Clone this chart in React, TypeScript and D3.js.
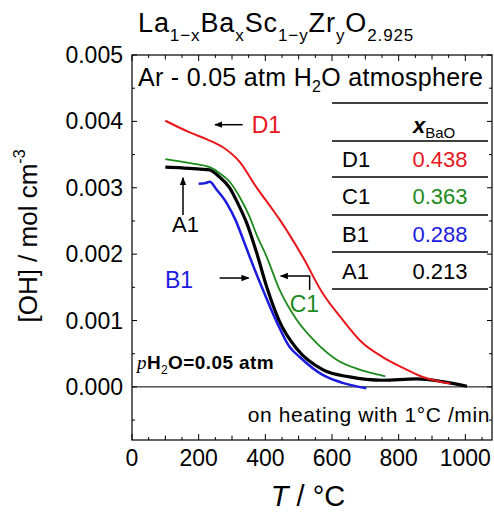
import React from 'react';
import * as d3 from 'd3';

// series: temperature (°C) and [OH] (mol cm^-3)
const d1T = [100, 175, 225, 273, 323, 373, 422, 443, 512, 572, 632, 692, 752, 812, 872, 922, 955];
const d1V = [0.00401, 0.00383, 0.00373, 0.00361, 0.00339, 0.00301, 0.00267, 0.00252, 0.00196, 0.00141, 0.00101, 0.00066, 0.00045, 0.00029, 0.00015, 0.00008, 0.00005];

const c1T = [100, 175, 233, 263, 293, 323, 353, 374, 404, 443, 494, 554, 614, 683, 743, 760];
const c1V = [0.00343, 0.00337, 0.00331, 0.00322, 0.00309, 0.00286, 0.00256, 0.00229, 0.00196, 0.00146, 0.00101, 0.00066, 0.00041, 0.00026, 0.00018, 0.00016];

const b1T = [200, 220, 233, 254, 284, 310, 332, 353, 393, 434, 473, 503, 572, 632, 703];
const b1V = [0.00306, 0.00307, 0.00309, 0.00297, 0.00277, 0.00252, 0.00224, 0.00196, 0.00146, 0.00098, 0.0006, 0.00045, 0.00018, 0.00006, -0.00002];

const a1T = [100, 150, 204, 233, 263, 293, 317, 344, 374, 404, 443, 495, 572, 653, 752, 853, 931, 1005];
const a1V = [0.00331, 0.0033, 0.00328, 0.00327, 0.00316, 0.003, 0.00277, 0.00247, 0.00202, 0.00151, 0.00098, 0.00057, 0.00026, 0.00015, 0.0001, 0.00012, 0.00008, 0.00001];

const sampleNames = ['D1', 'C1', 'B1', 'A1'];
const xBaO = ['0.438', '0.363', '0.288', '0.213'];
const colors = ['#e8161b', '#1d8a1d', '#1c1ce0', '#000000'];

const xTicks = [0, 200, 400, 600, 800, 1000];
const yTicks = [0, 0.001, 0.002, 0.003, 0.004, 0.005];

const W = 494;
const H = 513;
const font = 'Liberation Sans, Arial, Helvetica, sans-serif';

const x = d3.scaleLinear().domain([0, 1080]).range([132, 492]);
const y = d3.scaleLinear().domain([-0.0008, 0.005]).range([440, 55]);

const line = d3
  .line<[number, number]>()
  .x((d) => x(d[0]))
  .y((d) => y(d[1]))
  .curve(d3.curveMonotoneX);

const zip = (t: number[], v: number[]) => t.map((d, i) => [d, v[i]] as [number, number]);

const series = [
  { pts: zip(a1T, a1V), color: colors[3], w: 3.2 },
  { pts: zip(c1T, c1V), color: colors[1], w: 1.8 },
  { pts: zip(d1T, d1V), color: colors[0], w: 2 },
  { pts: zip(b1T, b1V), color: colors[2], w: 2.5 },
];

export default function App() {
  const [x0, x1] = x.range();
  const [y0, y1] = y.range();
  const xMinor = d3.range(0, 1081, 50);
  const yMinor = d3.range(-0.0005, 0.00501, 0.0005);
  const rowLines = [103, 141, 177, 215, 252, 289];

  return (
    <svg width={W} height={H} style={{ position: 'absolute', left: 0, top: 0, background: '#fff' }} fontFamily={font}>
      <defs>
        <marker id="ah" viewBox="0 0 10 10" refX="9" refY="5" markerWidth="8" markerHeight="8" orient="auto-start-reverse" markerUnits="userSpaceOnUse">
          <path d="M0,1 L10,5 L0,9 z" fill="#000" />
        </marker>
      </defs>

      {/* title */}
      <text x={138} y={32} fontSize={27} letterSpacing={0.9}>
        La<tspan fontSize={17} dy={9}>1−x</tspan>
        <tspan dy={-9}>Ba</tspan><tspan fontSize={17} dy={9}>x</tspan>
        <tspan dy={-9}>Sc</tspan><tspan fontSize={17} dy={9}>1−y</tspan>
        <tspan dy={-9}>Zr</tspan><tspan fontSize={17} dy={9}>y</tspan>
        <tspan dy={-9}>O</tspan><tspan fontSize={17} dy={9}>2.925</tspan>
      </text>

      {/* frame */}
      <rect x={x0} y={y1} width={x1 - x0} height={y0 - y1} fill="none" stroke="#000" strokeWidth={1.2} />
      <line x1={x0} x2={x1} y1={y(0)} y2={y(0)} stroke="#000" strokeWidth={1} />

      {/* x ticks top and bottom */}
      {xMinor.map((t) => {
        const len = t % 200 === 0 ? 6 : t % 100 === 0 ? 4.5 : 3;
        return (
          <g key={'xt' + t} stroke="#000" strokeWidth={1}>
            <line x1={x(t)} x2={x(t)} y1={y0} y2={y0 - len} />
            <line x1={x(t)} x2={x(t)} y1={y1} y2={y1 + len} />
          </g>
        );
      })}
      {yMinor.map((v) => {
        const major = Math.abs(Math.round(v * 1000) - v * 1000) < 1e-6;
        const len = major ? 5 : 3;
        return (
          <g key={'yt' + v} stroke="#000" strokeWidth={1}>
            <line x1={x0} x2={x0 + len} y1={y(v)} y2={y(v)} />
            <line x1={x1} x2={x1 - len} y1={y(v)} y2={y(v)} />
          </g>
        );
      })}

      {xTicks.map((t) => (
        <text key={'xl' + t} x={x(t)} y={466} fontSize={23} textAnchor="middle">
          {t}
        </text>
      ))}
      {yTicks.map((v) => (
        <text key={'yl' + v} x={123} y={y(v) + 8} fontSize={23} textAnchor="end">
          {v.toFixed(3)}
        </text>
      ))}

      {/* axis titles */}
      <text transform="translate(37,236) rotate(-90)" fontSize={26} textAnchor="middle">
        [OH] / mol cm<tspan fontSize={16} dy={-12}>-3</tspan>
      </text>
      <text x={308} y={506} fontSize={29} textAnchor="middle">
        <tspan fontStyle="italic">T</tspan> / °C
      </text>

      {/* curves */}
      {series.map((s, i) => (
        <path key={i} d={line(s.pts) || ''} fill="none" stroke={s.color} strokeWidth={s.w} strokeLinejoin="round" />
      ))}

      {/* annotations */}
      <text x={138} y={86} fontSize={25} letterSpacing={0.3}>
        Ar - 0.05 atm H<tspan fontSize={16} dy={6}>2</tspan><tspan dy={-6}>O atmosphere</tspan>
      </text>
      <text x={137} y={369} fontSize={19} fontWeight="bold" letterSpacing={0.4}>
        <tspan fontFamily="Liberation Serif, Times New Roman, serif" fontStyle="italic" fontWeight="normal">p</tspan>H
        <tspan fontSize={12} dy={5} fontWeight="normal">2</tspan>
        <tspan dy={-5}>O=0.05 atm</tspan>
      </text>
      <text x={490} y={422} fontSize={21} textAnchor="end" letterSpacing={0.6}>
        on heating with 1°C /min
      </text>

      {/* legend table */}
      {rowLines.map((ly) => (
        <line key={'rl' + ly} x1={332} x2={488} y1={ly} y2={ly} stroke="#000" strokeWidth={1.3} />
      ))}
      <text x={413} y={133} fontSize={22} fontStyle="italic" fontWeight="bold">
        x<tspan fontSize={15} dy={5} fontStyle="normal" fontWeight="normal">BaO</tspan>
      </text>
      {sampleNames.map((n, i) => (
        <g key={n}>
          <text x={342} y={167 + i * 37.3} fontSize={22}>{n}</text>
          <text x={440} y={167 + i * 37.3} fontSize={22} textAnchor="middle" fill={colors[i]}>{xBaO[i]}</text>
        </g>
      ))}

      {/* curve labels with arrows */}
      <line x1={x(332)} x2={x(249)} y1={y(0.00395)} y2={y(0.00395)} stroke="#000" strokeWidth={1.5} markerEnd="url(#ah)" />
      <text x={x(359)} y={y(0.00383)} fontSize={23} fill={colors[0]}>D1</text>

      <line x1={x(153)} x2={x(153)} y1={y(0.00259)} y2={y(0.00315)} stroke="#000" strokeWidth={1.5} markerEnd="url(#ah)" />
      <text x={x(120)} y={y(0.00233)} fontSize={22} fill={colors[3]}>A1</text>

      <line x1={x(263)} x2={x(350)} y1={y(0.00164)} y2={y(0.00164)} stroke="#000" strokeWidth={1.5} markerEnd="url(#ah)" />
      <text x={x(99)} y={y(0.00149)} fontSize={23} fill={colors[2]}>B1</text>

      <polyline
        points={[[533, 0.00146], [533, 0.00167], [446, 0.00167]].map((p) => `${x(p[0])},${y(p[1])}`).join(' ')}
        fill="none" stroke="#000" strokeWidth={1.5} markerEnd="url(#ah)"
      />
      <text x={x(473)} y={y(0.00113)} fontSize={23} fill={colors[1]}>C1</text>
    </svg>
  );
}
